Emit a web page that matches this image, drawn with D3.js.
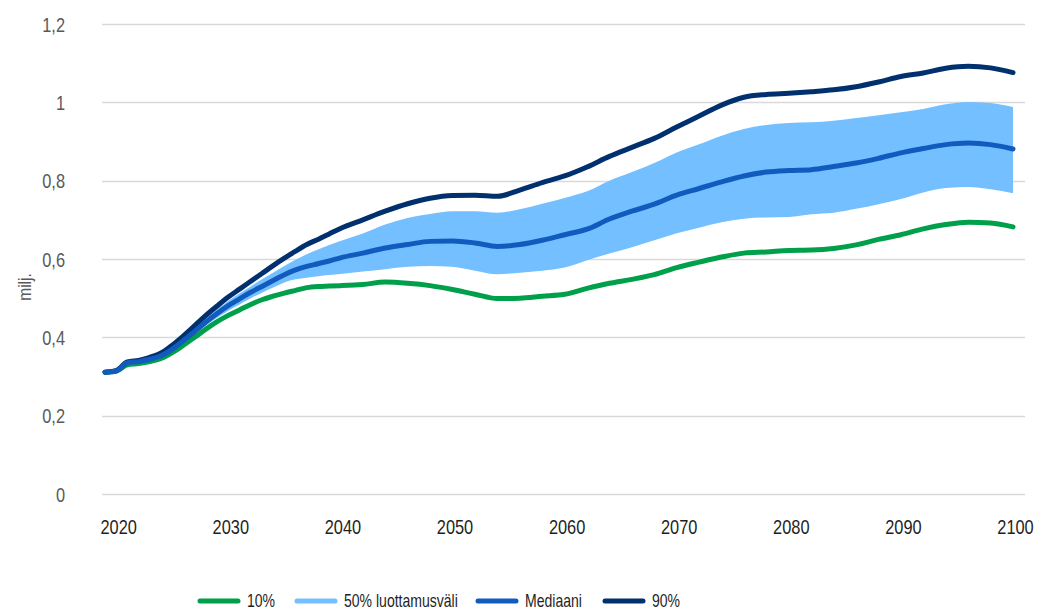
<!DOCTYPE html>
<html lang="fi">
<head>
    <meta charset="UTF-8">
    <title>Väestöennuste</title>
    <script src="https://cdnjs.cloudflare.com/ajax/libs/d3/7.8.5/d3.min.js"></script>
    <style>
        body { margin: 0; background: #fff; }
        text { font-family: "Liberation Sans", Arial, sans-serif; }
    </style>
</head>
<body>
    <script>
        // vuodet ja sarjat (milj.)
        var years = [2019, 2020, 2021, 2022, 2023, 2024, 2025, 2026, 2027, 2028, 2029, 2030,
            2031, 2032, 2033, 2034, 2035, 2036, 2037, 2038, 2039, 2040,
            2042, 2044, 2046, 2048, 2050, 2052, 2054, 2056, 2058, 2060,
            2062, 2064, 2066, 2068, 2070, 2072, 2074, 2076, 2078, 2080,
            2082, 2084, 2086, 2088, 2090, 2092, 2094, 2096, 2098, 2100];

        var p10 = [0.311, 0.314, 0.330, 0.333, 0.338, 0.346, 0.361, 0.380, 0.400, 0.421, 0.440, 0.456,
            0.470, 0.484, 0.496, 0.505, 0.513, 0.520, 0.527, 0.530, 0.531, 0.532,
            0.535, 0.541, 0.538, 0.532, 0.522, 0.510, 0.499, 0.500, 0.505, 0.510,
            0.525, 0.538, 0.548, 0.560, 0.578, 0.592, 0.605, 0.615, 0.618, 0.622,
            0.623, 0.627, 0.636, 0.650, 0.662, 0.677, 0.688, 0.694, 0.692, 0.682];

        var p25 = [0.311, 0.314, 0.333, 0.336, 0.342, 0.350, 0.366, 0.386, 0.408, 0.430, 0.450, 0.468,
            0.484, 0.500, 0.514, 0.527, 0.540, 0.548, 0.552, 0.556, 0.559, 0.562,
            0.568, 0.574, 0.580, 0.582, 0.580, 0.570, 0.561, 0.565, 0.570, 0.578,
            0.597, 0.614, 0.630, 0.648, 0.666, 0.680, 0.694, 0.703, 0.706, 0.707,
            0.714, 0.718, 0.728, 0.740, 0.753, 0.770, 0.781, 0.784, 0.778, 0.768];

        var median = [0.311, 0.314, 0.335, 0.338, 0.344, 0.353, 0.370, 0.392, 0.415, 0.439, 0.461, 0.481,
            0.498, 0.515, 0.530, 0.545, 0.560, 0.572, 0.581, 0.588, 0.595, 0.603,
            0.615, 0.628, 0.637, 0.645, 0.646, 0.641, 0.632, 0.637, 0.648, 0.662,
            0.676, 0.702, 0.722, 0.740, 0.763, 0.780, 0.797, 0.812, 0.822, 0.826,
            0.828, 0.836, 0.845, 0.857, 0.871, 0.882, 0.892, 0.896, 0.892, 0.881];

        var p75 = [0.311, 0.315, 0.336, 0.340, 0.347, 0.357, 0.375, 0.398, 0.422, 0.448, 0.471, 0.493,
            0.512, 0.530, 0.548, 0.565, 0.582, 0.598, 0.612, 0.624, 0.636, 0.646,
            0.665, 0.688, 0.705, 0.715, 0.722, 0.722, 0.718, 0.727, 0.741, 0.756,
            0.773, 0.800, 0.822, 0.845, 0.872, 0.893, 0.915, 0.932, 0.942, 0.947,
            0.949, 0.953, 0.960, 0.967, 0.975, 0.983, 0.995, 1.001, 0.998, 0.988];

        var p90 = [0.311, 0.315, 0.337, 0.341, 0.349, 0.360, 0.380, 0.404, 0.430, 0.456, 0.480, 0.503,
            0.523, 0.543, 0.563, 0.583, 0.602, 0.620, 0.637, 0.650, 0.664, 0.678,
            0.700, 0.722, 0.741, 0.755, 0.762, 0.763, 0.760, 0.776, 0.795, 0.812,
            0.835, 0.862, 0.885, 0.908, 0.937, 0.965, 0.993, 1.013, 1.020, 1.023,
            1.027, 1.032, 1.040, 1.052, 1.066, 1.075, 1.087, 1.092, 1.088, 1.076];

        var xTicks = [2020, 2030, 2040, 2050, 2060, 2070, 2080, 2090, 2100];
        var yTicks = [0, 0.2, 0.4, 0.6, 0.8, 1, 1.2];
        var legendLabels = ["10%", "50% luottamusväli", "Mediaani", "90%"];

        var colors = {
            p10: "#00a04b",
            band: "#74bfff",
            median: "#115bbf",
            p90: "#00306e"
        };

        var w = 1037;
        var h = 612;
        var narrow = "scale(0.82,1)"; // narrow look, like a condensed face

        var svg = d3.select("body")
            .append("svg")
            .attr("width", w)
            .attr("height", h);

        var x = d3.scaleLinear().domain([2019, 2100]).range([105, 1013]);
        var y = d3.scaleLinear().domain([0, 1.2]).range([494, 24]);

        var fmt = function(d) { return String(d).replace(".", ","); };

        // gridlines
        svg.append("g")
            .selectAll("line")
            .data(yTicks)
            .enter()
            .append("line")
            .attr("x1", 102)
            .attr("x2", 1025)
            .attr("y1", d => Math.round(y(d)) + 0.5)
            .attr("y2", d => Math.round(y(d)) + 0.5)
            .attr("stroke", "#d9d9d9")
            .attr("stroke-width", 1.3);

        // y axis labels
        var yAxis = svg.append("g")
            .attr("transform", "translate(65,0)")
            .call(d3.axisLeft(y).tickValues(yTicks).tickFormat(fmt).tickSize(0).tickPadding(0));
        yAxis.select(".domain").remove();
        yAxis.selectAll("text")
            .attr("fill", "#595959")
            .attr("font-size", "20px")
            .attr("dy", "0.35em")
            .attr("transform", narrow);

        // x axis labels
        var xAxis = svg.append("g")
            .attr("transform", "translate(2,518)")
            .call(d3.axisBottom(x).tickValues(xTicks).tickFormat(d3.format("d")).tickSize(0).tickPadding(0));
        xAxis.select(".domain").remove();
        xAxis.selectAll("text")
            .attr("fill", "#1f1f1f")
            .attr("font-size", "20px")
            .attr("dy", "0.8em")
            .attr("transform", narrow);

        svg.append("text")
            .attr("transform", "translate(31,287) rotate(-90) " + narrow)
            .attr("text-anchor", "middle")
            .attr("fill", "#595959")
            .attr("font-size", "19px")
            .text("milj.");

        var rows = years.map(function(yr, i) {
            return { year: yr, p10: p10[i], p25: p25[i], median: median[i], p75: p75[i], p90: p90[i] };
        });

        var area = d3.area()
            .x(d => x(d.year))
            .y0(d => y(d.p25))
            .y1(d => y(d.p75))
            .curve(d3.curveMonotoneX);

        svg.append("path")
            .datum(rows)
            .attr("d", area)
            .attr("fill", colors.band);

        function drawLine(key, color) {
            var line = d3.line()
                .x(d => x(d.year))
                .y(d => y(d[key]))
                .curve(d3.curveMonotoneX);
            svg.append("path")
                .datum(rows)
                .attr("d", line)
                .attr("fill", "none")
                .attr("stroke", color)
                .attr("stroke-width", 5)
                .attr("stroke-linecap", "round")
                .attr("stroke-linejoin", "round");
        }
        drawLine("p10", colors.p10);
        drawLine("p90", colors.p90);
        drawLine("median", colors.median);

        // legend
        var legendColors = [colors.p10, colors.band, colors.median, colors.p90];
        var legendX = [198, 295, 476, 603];
        var legend = svg.append("g");
        legendLabels.forEach(function(label, i) {
            legend.append("line")
                .attr("x1", legendX[i] + 2)
                .attr("x2", legendX[i] + 40)
                .attr("y1", 601)
                .attr("y2", 601)
                .attr("stroke", legendColors[i])
                .attr("stroke-width", 5)
                .attr("stroke-linecap", "round");
            legend.append("text")
                .attr("transform", "translate(" + (legendX[i] + 49) + ",607) scale(0.78,1)")
                .attr("fill", "#1f1f1f")
                .attr("font-size", "18px")
                .text(label);
        });
    </script>
</body>
</html>
